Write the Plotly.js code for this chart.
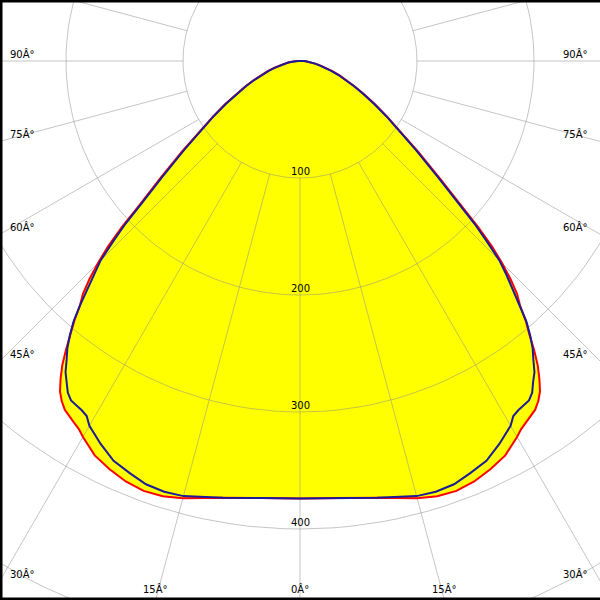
<!DOCTYPE html>
<html>
<head>
<meta charset="utf-8">
<script src="https://cdn.plot.ly/plotly-3.0.1.min.js"></script>
<style>
html,body{margin:0;padding:0;background:#fff;}
#chart{width:600px;height:600px;}
</style>
</head>
<body>
<div id="chart"></div>
<script>
// Vertical angles (gamma, degrees from nadir)
const gamma = [0,5,10,15,17.5,20,22.5,25,27.5,30,31,32,33,34,35,36,37,38,39,40,41,42,43,44,45,46,47,48,49,50,52.5,55,57.5,60,62.5,65,67.5,70,72.5,75,77.5,80,82.5,85,87.5,90,95,100,120,150,180];
// C0-C180 plane intensity (red)
const planeC0 = [374,375,379,387,390,391,389,385,380,371,367,364.5,362,359.5,355,349,340,330,318,305,294,281,272,259,244,228,208,186,170,156,127,105,88,74,62,52,43,36,29,23,18,14,10,7,5,3,1,0,0,0,0];
// C90-C270 plane intensity (blue)
const planeC90 = [374,375,379,385,386,385,381,377,369,360,354,352,351,350,346,339,333,324,316,306,295,281,266,254,241,222,204,183,167,153,125,103,87,73,61,51,42,35,28,22,17,13,10,7,5,3,1,0,0,0,0];
// Grid / tick values
const radialTicks = [100,200,300,400,500];
const radialLabels = ['100','200','300','400'];
const angleTicks = [0,15,30,45,60,75,90];
const gridAngles = [0,15,30,45,60,75,90,105,120,135,150,165,180,195,210,225,240,255,270,285,300,315,330,345];

const W = 600, H = 600, k = 1.17, cx = 300, cy = 61;
const xr = [-cx/k, (W-cx)/k];
const yr = [-(H-cy)/k, cy/k];

function planeXY(vals){
  const x=[], y=[];
  for(let i=gamma.length-1;i>=0;i--){const a=gamma[i]*Math.PI/180;x.push(vals[i]*Math.sin(a));y.push(-vals[i]*Math.cos(a));}
  for(let i=0;i<gamma.length;i++){const a=gamma[i]*Math.PI/180;x.push(-vals[i]*Math.sin(a));y.push(-vals[i]*Math.cos(a));}
  return {x,y};
}
const red = planeXY(planeC0), blue = planeXY(planeC90);

// grid traces
const gx=[], gy=[];
radialTicks.forEach(r=>{
  for(let a=0;a<=360;a+=2){const t=a*Math.PI/180;gx.push(r*Math.sin(t));gy.push(-r*Math.cos(t));}
  gx.push(null);gy.push(null);
});
gridAngles.forEach(a=>{
  const t=a*Math.PI/180;
  gx.push(100*Math.sin(t), 800*Math.sin(t), null);
  gy.push(-100*Math.cos(t), -800*Math.cos(t), null);
});

const gridColor = 'rgba(140,140,140,0.5)';
const traces = [
  {x:red.x,y:red.y,mode:'lines',fill:'toself',fillcolor:'#ffff00',line:{width:0,color:'rgba(0,0,0,0)'},hoverinfo:'skip'},
  {x:gx,y:gy,mode:'lines',line:{width:1,color:gridColor},hoverinfo:'skip'},
  {x:red.x,y:red.y,mode:'lines',line:{width:2,color:'#ff0000'},hoverinfo:'skip'},
  {x:blue.x,y:blue.y,mode:'lines',line:{width:2,color:'#1c1c96'},hoverinfo:'skip'}
];

const font = {family:'DejaVu Sans', size:10, color:'#000'};
const ann = [];
radialLabels.forEach((s,i)=>{
  ann.push({x:0,y:-radialTicks[i],xref:'x',yref:'y',text:s,showarrow:false,xanchor:'center',yanchor:'middle',yshift:7,font:font});
});
angleTicks.forEach(a=>{
  const lbl = a + '\u00C2\u00B0';
  const t=a*Math.PI/180;
  const bottomDist = (H-cy)/k;
  const sideDist = cx/k;
  if(a>0 && sideDist/Math.tan(t) < bottomDist){
    const yv = -sideDist/Math.tan(t);
    ann.push({x:8/W,y:yv,xref:'paper',yref:'y',text:lbl,showarrow:false,xanchor:'left',yanchor:'middle',yshift:7,font:font});
    ann.push({x:590/W,y:yv,xref:'paper',yref:'y',text:lbl,showarrow:false,xanchor:'right',yanchor:'middle',yshift:7,font:font});
  } else {
    const xv = bottomDist*Math.tan(t);
    ann.push({x:-xv,y:11/H,xref:'x',yref:'paper',text:lbl,showarrow:false,xanchor:'center',yanchor:'middle',font:font});
    if(a>0) ann.push({x:xv,y:11/H,xref:'x',yref:'paper',text:lbl,showarrow:false,xanchor:'center',yanchor:'middle',font:font});
  }
});

const layout = {
  width:W,height:H,margin:{l:0,r:0,t:0,b:0},
  paper_bgcolor:'#fff',plot_bgcolor:'#fff',showlegend:false,
  xaxis:{range:xr,visible:false,fixedrange:true},
  yaxis:{range:yr,visible:false,fixedrange:true},
  annotations:ann,
  shapes:[
    {type:'rect',xref:'paper',yref:'paper',x0:0,x1:2.5/W,y0:0,y1:1,fillcolor:'#000',line:{width:0},layer:'above'},
    {type:'rect',xref:'paper',yref:'paper',x0:0,x1:1,y0:1-2.5/H,y1:1,fillcolor:'#000',line:{width:0},layer:'above'},
    {type:'rect',xref:'paper',yref:'paper',x0:0,x1:1,y0:0,y1:2.5/H,fillcolor:'#000',line:{width:0},layer:'above'}
  ]
};
Plotly.newPlot('chart',traces,layout,{displayModeBar:false,staticPlot:true});
</script>
</body>
</html>
